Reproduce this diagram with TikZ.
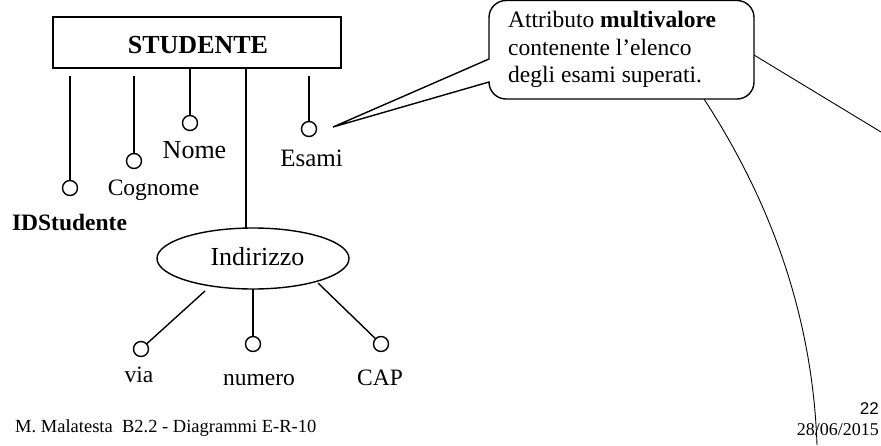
\documentclass[tikz,border=0pt]{standalone}
\usepackage{fontspec}
\setmainfont{Liberation Serif}
\newfontfamily\arialfont{Liberation Sans}
\usetikzlibrary{shapes.geometric}

\tikzset{
  er/.style={line width=1.4pt, black},
  entity/.style={draw, er, rectangle, minimum width=288pt, minimum height=51pt, inner sep=0pt},
  attr/.style={draw, er, circle, minimum size=15pt, inner sep=0pt, fill=white},
  composite/.style={draw, er, ellipse, minimum width=192pt, minimum height=61pt, inner sep=0pt},
  lbl/.style={inner sep=0pt, anchor=base, font=\fontsize{25}{30}\selectfont},
  lblbig/.style={inner sep=0pt, anchor=base, font=\fontsize{26}{30}\selectfont},
  lblsmall/.style={inner sep=0pt, anchor=base, font=\fontsize{23.5}{28}\selectfont},
  note/.style={inner sep=0pt, anchor=base west, font=\fontsize{23.5}{28}\selectfont},
  foot/.style={inner sep=0pt, font=\fontsize{18.5}{22}\selectfont},
  thin/.style={line width=0.9pt, black}
}

\begin{document}
\begin{tikzpicture}[x=1pt, y=-1pt]
\useasboundingbox (0,0) rectangle (881,445);
\clip (0,0) rectangle (881,445);

% entity
\node[entity] (stud) at (197,42.5) {};
\node[inner sep=0pt, anchor=base, font=\fontsize{26}{30}\selectfont\bfseries] (studlbl) at (198,53) {STUDENTE};

% simple attributes
\coordinate (s1) at (70,76);
\node[attr] (idc) at (70,188) {};
\draw[er] (s1) -- (idc);
\node[lblsmall, font=\fontsize{23.5}{28}\selectfont\bfseries] (idl) at (69.5,230) {IDStudente};

\coordinate (s2) at (134,76);
\node[attr] (cogc) at (134,161) {};
\draw[er] (s2) -- (cogc);
\node[lblsmall] (cogl) at (153.5,195) {Cognome};

\coordinate (s3) at (190,68);
\node[attr] (nomc) at (190,123) {};
\draw[er] (s3) -- (nomc);
\node[lblbig] (noml) at (194.5,158) {Nome};

\coordinate (s5) at (309,76);
\node[attr] (esac) at (309,129) {};
\draw[er] (s5) -- (esac);
\node[lbl] (esal) at (311.5,166) {Esami};

% composite attribute
\coordinate (s4) at (246,68);
\node[composite] (ind) at (253,258.5) {};
\node[lblbig] (indl) at (257.5,265) {Indirizzo};
\draw[er] (s4) -- (246,228.2);

\coordinate (v0) at (205,291);
\node[attr] (viac) at (141,349) {};
\draw[er] (v0) -- (viac);
\node[lblsmall] (vial) at (139,382) {via};

\coordinate (n0) at (253,289);
\node[attr] (numc) at (253,344) {};
\draw[er] (n0) -- (numc);
\node[lblsmall] (numl) at (259,385) {numero};

\coordinate (c0) at (318,283);
\node[attr] (capc) at (381,344) {};
\draw[er] (c0) -- (capc);
\node[lblsmall] (capl) at (380,385) {CAP};

% callout
\coordinate (tip) at (333,127);
\draw[er] (tip) -- (489,59) -- (489,17.5)
  arc[start angle=180, end angle=270, radius=17] -- (737,0.5)
  arc[start angle=270, end angle=360, radius=17] -- (754,82)
  arc[start angle=0, end angle=90, radius=17] -- (506,99)
  arc[start angle=90, end angle=180, radius=17] -- cycle;
\node[note] (n1) at (508,27) {Attributo \textbf{multivalore}};
\node[note] (n2) at (508,55) {contenente l’elenco};
\node[note] (n3) at (508,82) {degli esami superati.};

% stray strokes
\coordinate (r0) at (754,55);
\coordinate (r1) at (881,132);
\draw[thin] (r0) -- (r1);
\coordinate (a0) at (704,99);
\coordinate (a1) at (817,445);
\draw[thin] (a0) .. controls (760,185) and (812,300) .. (a1);

% footer
\node[foot, anchor=base west] (f1) at (15,432) {M. Malatesta\ \ B2.2 - Diagrammi E-R-10};
\node[foot, anchor=base east, font=\fontsize{17}{20}\arialfont] (f2) at (879,414) {22};
\node[foot, anchor=base east, font=\fontsize{18}{22}\selectfont] (f3) at (879,435) {28/06/2015};
\end{tikzpicture}
\end{document}
